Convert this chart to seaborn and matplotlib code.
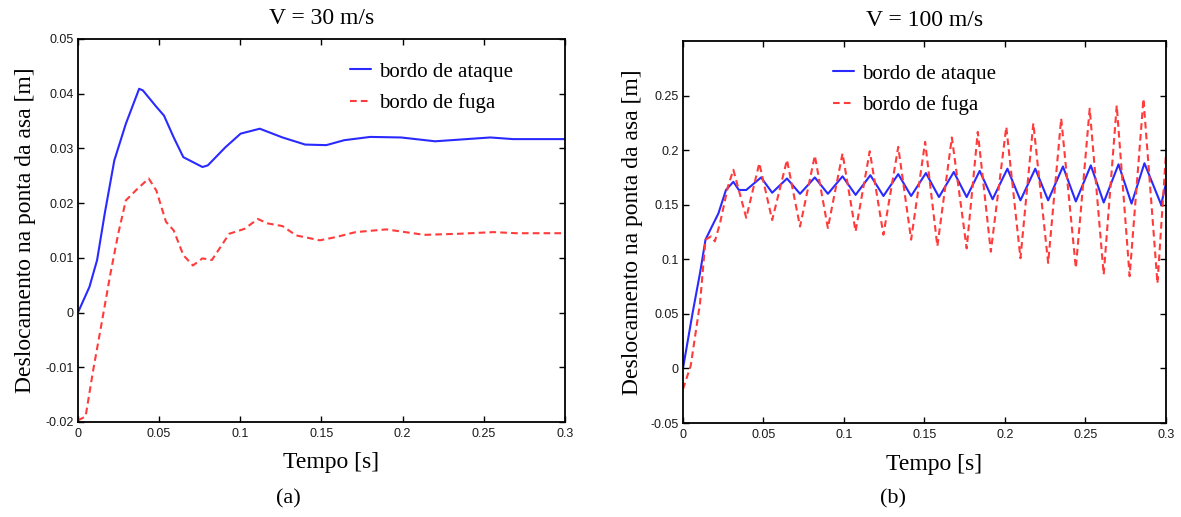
import numpy as np
import pandas as pd
import matplotlib
matplotlib.use("Agg")
import matplotlib.pyplot as plt
import seaborn as sns

# ---------------- data ----------------
# (a) V = 30 m/s
t30_ataque = [0.0, 0.0071, 0.0118, 0.0165, 0.0224, 0.0295, 0.0377, 0.040, 0.0483, 0.053,
              0.059, 0.0649, 0.0767, 0.080, 0.0908, 0.1002, 0.112, 0.126, 0.140, 0.153,
              0.164, 0.180, 0.199, 0.220, 0.254, 0.268, 0.3]
y30_ataque = [0.0, 0.0047, 0.0096, 0.0181, 0.0278, 0.0345, 0.0409, 0.0406, 0.0376, 0.036,
              0.032, 0.0284, 0.0266, 0.0269, 0.0302, 0.0327, 0.0336, 0.032, 0.0307, 0.0306,
              0.0315, 0.0321, 0.0320, 0.0313, 0.0320, 0.0317, 0.0317]
t30_fuga = [0.0, 0.0047, 0.0094, 0.0142, 0.020, 0.0248, 0.0295, 0.0366, 0.0436, 0.0483,
            0.0542, 0.059, 0.0649, 0.0708, 0.0767, 0.0825, 0.0932, 0.1026, 0.1108, 0.1167,
            0.126, 0.1344, 0.149, 0.159, 0.171, 0.190, 0.2016, 0.2134, 0.2347, 0.256, 0.27, 0.3]
y30_fuga = [-0.0197, -0.019, -0.0105, -0.0026, 0.0071, 0.0144, 0.0205, 0.0226, 0.0245, 0.0223,
            0.0166, 0.015, 0.0105, 0.0086, 0.0099, 0.0096, 0.0144, 0.0153, 0.0171, 0.0163,
            0.0158, 0.0141, 0.0132, 0.0138, 0.0147, 0.0152, 0.0147, 0.0142, 0.0144, 0.0147, 0.0145, 0.0145]

# (b) V = 100 m/s
t100_ataque = [0.0, 0.006, 0.0106, 0.014, 0.0175, 0.022, 0.0267, 0.0313, 0.0347, 0.0393,
               0.0485, 0.0554, 0.0646, 0.0727, 0.0819, 0.090, 0.0991, 0.1072, 0.1164, 0.1245,
               0.1337, 0.1417, 0.1509, 0.159, 0.1682, 0.1762, 0.1843, 0.1923, 0.2015, 0.2096,
               0.2188, 0.2268, 0.236, 0.244, 0.2533, 0.2613, 0.2705, 0.2786, 0.2866, 0.297, 0.3]
y100_ataque = [0.0, 0.051, 0.0875, 0.118, 0.1286, 0.142, 0.1635, 0.171, 0.1635, 0.1635,
               0.175, 0.161, 0.174, 0.160, 0.175, 0.160, 0.176, 0.159, 0.177, 0.158,
               0.178, 0.158, 0.179, 0.157, 0.180, 0.157, 0.181, 0.155, 0.183, 0.154,
               0.183, 0.154, 0.185, 0.153, 0.186, 0.152, 0.187, 0.151, 0.188, 0.150, 0.17]
t100_fuga = [0.0, 0.0048, 0.0106, 0.014, 0.0175, 0.0198, 0.023, 0.028, 0.0313, 0.0393,
             0.0474, 0.0554, 0.0646, 0.0727, 0.0819, 0.090, 0.0991, 0.1072, 0.116, 0.1245,
             0.1337, 0.1417, 0.1504, 0.158, 0.167, 0.1762, 0.1831, 0.1912, 0.2008, 0.2096,
             0.2176, 0.2268, 0.2349, 0.244, 0.2526, 0.2613, 0.2694, 0.2774, 0.286, 0.2947, 0.3]
y100_fuga = [-0.019, 0.0024, 0.060, 0.118, 0.121, 0.1164, 0.133, 0.167, 0.182, 0.138,
             0.188, 0.136, 0.191, 0.130, 0.195, 0.1286, 0.197, 0.1255, 0.199, 0.1225,
             0.203, 0.118, 0.2076, 0.112, 0.2116, 0.110, 0.2167, 0.107, 0.2213, 0.101,
             0.2246, 0.0967, 0.229, 0.092, 0.238, 0.086, 0.241, 0.0845, 0.247, 0.078, 0.197]

labels = ["bordo de ataque", "bordo de fuga"]
titles = ["V = 30 m/s", "V = 100 m/s"]
captions = ["(a)", "(b)"]
xticks = [0, 0.05, 0.1, 0.15, 0.2, 0.25, 0.3]
xticklabels = ["0", "0.05", "0.1", "0.15", "0.2", "0.25", "0.3"]
yticks_a = [-0.02, -0.01, 0, 0.01, 0.02, 0.03, 0.04, 0.05]
yticklabels_a = ["-0.02", "-0.01", "0", "0.01", "0.02", "0.03", "0.04", "0.05"]
yticks_b = [-0.05, 0, 0.05, 0.1, 0.15, 0.2, 0.25]
yticklabels_b = ["-0.05", "0", "0.05", "0.1", "0.15", "0.2", "0.25"]

# ---------------- style ----------------
sns.set_theme(style="white")
plt.rcParams['font.family'] = ['Liberation Serif', 'DejaVu Serif']

def make_df(t1, y1, t2, y2):
    d1 = pd.DataFrame({"t": t1, "y": y1, "serie": labels[0]})
    d2 = pd.DataFrame({"t": t2, "y": y2, "serie": labels[1]})
    return pd.concat([d1, d2], ignore_index=True)

dfa = make_df(t30_ataque, y30_ataque, t30_fuga, y30_fuga)
dfb = make_df(t100_ataque, y100_ataque, t100_fuga, y100_fuga)

fig = plt.figure(figsize=(11.81, 5.17), dpi=100)
axa = fig.add_axes([0.0660, 0.1838, 0.4124, 0.7408])
axb = fig.add_axes([0.5783, 0.1818, 0.4090, 0.7389])

palette = {labels[0]: "#2a2aff", labels[1]: "#ff3b3b"}
dashes = {labels[0]: "", labels[1]: (3.2, 2.0)}

panels = [
    (axa, dfa, yticks_a, yticklabels_a, (-0.02, 0.05), titles[0], (0.5585, 0.940), (-0.086, -0.078)),
    (axb, dfb, yticks_b, yticklabels_b, (-0.05, 0.3), titles[1], (0.3106, 0.940), (-0.082, -0.081)),
]
for ax, df, yt, ytl, ylim, title, leg_anchor, lab in panels:
    sns.lineplot(data=df, x="t", y="y", hue="serie", style="serie", palette=palette,
                 dashes=dashes, linewidth=1.5, ax=ax, sort=False, estimator=None)
    ax.set_xlim(0, 0.3)
    ax.set_ylim(*ylim)
    ax.set_xticks(xticks)
    ax.set_xticklabels(xticklabels, family='Liberation Sans', fontsize=9)
    ax.set_yticks(yt)
    ax.set_yticklabels(ytl, family='Liberation Sans', fontsize=9)
    ax.tick_params(axis='x', pad=4)
    ax.tick_params(axis='y', pad=3)
    ax.tick_params(direction='in', length=4, width=1, top=True, right=True,
                   bottom=True, left=True, color='black', labelcolor='#1a1a1a')
    for s in ax.spines.values():
        s.set_color('black')
        s.set_linewidth(1.3)
    ax.set_xlabel("Tempo [s]", fontsize=17, color='black')
    ax.set_ylabel("Deslocamento na ponta da asa [m]", fontsize=17, color='black')
    ax.yaxis.set_label_coords(lab[0], 0.5)
    ax.xaxis.set_label_coords(0.52, lab[1])
    ax.xaxis.label.set_va('top')
    ax.set_title(title, fontsize=17, pad=11, color='black')
    ax.grid(False)
    leg = ax.legend(loc='upper left', bbox_to_anchor=leg_anchor, frameon=False,
                    fontsize=15, handlelength=1.0, handletextpad=0.4, labelspacing=0.55,
                    borderaxespad=0, borderpad=0)
    for txt in leg.get_texts():
        txt.set_color('black')

fig.text(288 / 1181, 1 - 499 / 517, captions[0], ha='center', va='center', fontsize=16, color='black')
fig.text(893 / 1181, 1 - 499 / 517, captions[1], ha='center', va='center', fontsize=16, color='black')

fig.savefig("out.png", dpi=100)
